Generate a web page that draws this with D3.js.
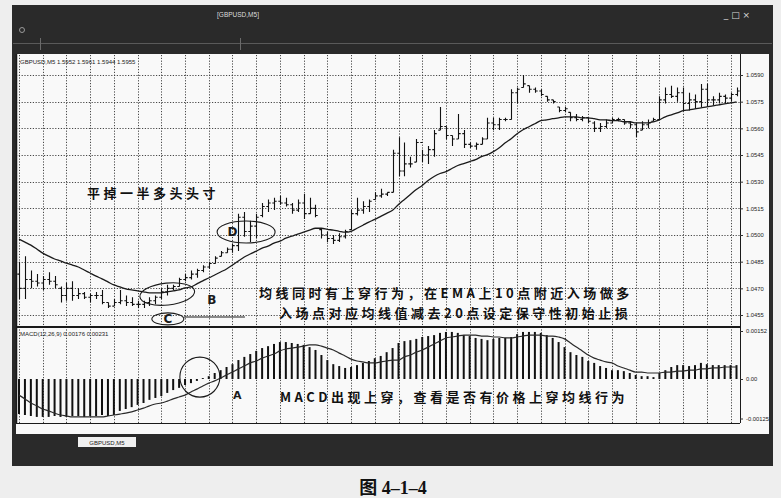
<!DOCTYPE html>
<html>
<head>
<meta charset="utf-8">
<script src="https://d3js.org/d3.v7.min.js"></script>
<style>
body { margin: 0; background: #eeeeee; }
svg { display: block; }
.small { font-family: "Liberation Sans", Arial, sans-serif; font-size: 6px; fill: #222; }
.note { font-family: "Noto Sans CJK SC", sans-serif; font-weight: 700; font-size: 13px; fill: #111; letter-spacing: 3.5px; }
.letter { font-family: "DejaVu Sans", sans-serif; font-weight: 700; font-size: 12px; fill: #1a1a1a; }
.axis path { display: none; }
.axis line { stroke: #333; }
.axis text { font-family: "Liberation Sans", Arial, sans-serif; font-size: 5.8px; fill: #222; }
</style>
</head>
<body>
<div id="chart"></div>
<script>
// time labels every 8 bars (M5)
var timeLabels = ["24 Sep 2008", "24 Sep 23:35", "25 Sep 00:15", "25 Sep 00:55", "25 Sep 01:35",
    "25 Sep 02:20", "25 Sep 03:00", "25 Sep 03:40", "25 Sep 04:20", "25 Sep 05:00", "25 Sep 05:40",
    "25 Sep 06:20", "25 Sep 07:00", "25 Sep 07:40", "25 Sep 08:20", "25 Sep 09:00"];
var priceTicks = [1.0590, 1.0575, 1.0560, 1.0545, 1.0530, 1.0515, 1.0500, 1.0485, 1.0470, 1.0455];
var macdTicks = [0.00152, 0.00, -0.00125];
var macdTickLabels = ["0.00152", "0.00", "-0.00125"];

var opens = [1.0478,1.0470,1.0475,1.0474,1.0473,1.0475,1.0474,1.0470,1.0466,1.0470,
    1.0466,1.0467,1.0465,1.0466,1.0466,1.0462,1.0460,1.0462,1.0463,1.0462,
    1.0461,1.0461,1.0462,1.0463,1.0465,1.0468,1.0470,1.0471,1.0475,1.0476,
    1.0478,1.0480,1.0482,1.0484,1.0488,1.0490,1.0492,1.0494,1.0510,1.0502,
    1.0505,1.0511,1.0516,1.0518,1.0519,1.0518,1.0517,1.0514,1.0518,1.0512,
    1.0515,1.0503,1.0500,1.0498,1.0497,1.0499,1.0503,1.0512,1.0514,1.0516,
    1.0520,1.0522,1.0523,1.0524,1.0546,1.0536,1.0540,1.0541,1.0552,1.0545,
    1.0548,1.0559,1.0561,1.0556,1.0554,1.0557,1.0551,1.0550,1.0551,1.0554,
    1.0563,1.0562,1.0565,1.0565,1.0580,1.0583,1.0584,1.0582,1.0581,1.0578,
    1.0576,1.0572,1.0570,1.0569,1.0566,1.0565,1.0566,1.0563,1.0560,1.0561,
    1.0563,1.0565,1.0565,1.0563,1.0562,1.0559,1.0562,1.0564,1.0565,1.0576,
    1.0579,1.0578,1.0580,1.0574,1.0576,1.0575,1.0582,1.0576,1.0576,1.0578,
    1.0577,1.0579];
var highs = [1.0485,1.0488,1.0480,1.0478,1.0477,1.0479,1.0477,1.0471,1.0473,1.0474,
    1.0470,1.0468,1.0467,1.0468,1.0469,1.0462,1.0464,1.0469,1.0466,1.0465,
    1.0463,1.0463,1.0465,1.0466,1.0470,1.0472,1.0472,1.0476,1.0478,1.0480,
    1.0481,1.0483,1.0485,1.0488,1.0491,1.0493,1.0495,1.0512,1.0513,1.0508,
    1.0512,1.0518,1.0520,1.0521,1.0522,1.0521,1.0518,1.0520,1.0523,1.0521,
    1.0517,1.0504,1.0502,1.0500,1.0501,1.0503,1.0514,1.0521,1.0519,1.0520,
    1.0524,1.0526,1.0524,1.0548,1.0555,1.0552,1.0544,1.0554,1.0548,1.0550,
    1.0559,1.0572,1.0561,1.0556,1.0568,1.0559,1.0552,1.0552,1.0555,1.0566,
    1.0566,1.0566,1.0566,1.0582,1.0583,1.0590,1.0584,1.0583,1.0582,1.0578,
    1.0576,1.0572,1.0572,1.0569,1.0568,1.0567,1.0566,1.0564,1.0563,1.0565,
    1.0566,1.0566,1.0565,1.0564,1.0563,1.0564,1.0565,1.0566,1.0578,1.0583,
    1.0584,1.0583,1.0583,1.0580,1.0579,1.0585,1.0585,1.0578,1.0580,1.0579,
    1.0580,1.0583];
var lows = [1.0464,1.0464,1.0470,1.0471,1.0469,1.0472,1.0470,1.0462,1.0463,1.0463,
    1.0464,1.0464,1.0462,1.0464,1.0461,1.0459,1.0460,1.0461,1.0460,1.0460,
    1.0459,1.0459,1.0460,1.0461,1.0464,1.0466,1.0469,1.0471,1.0474,1.0475,
    1.0476,1.0479,1.0481,1.0484,1.0488,1.0490,1.0490,1.0491,1.0499,1.0496,
    1.0498,1.0510,1.0513,1.0514,1.0517,1.0516,1.0512,1.0513,1.0509,1.0512,
    1.0510,1.0498,1.0496,1.0495,1.0496,1.0498,1.0503,1.0511,1.0512,1.0513,
    1.0520,1.0521,1.0522,1.0524,1.0533,1.0533,1.0538,1.0541,1.0541,1.0540,
    1.0544,1.0559,1.0554,1.0550,1.0554,1.0549,1.0549,1.0548,1.0551,1.0554,
    1.0559,1.0559,1.0564,1.0565,1.0574,1.0583,1.0580,1.0580,1.0578,1.0575,
    1.0574,1.0569,1.0569,1.0564,1.0564,1.0564,1.0563,1.0558,1.0558,1.0560,
    1.0563,1.0564,1.0562,1.0560,1.0555,1.0559,1.0560,1.0564,1.0565,1.0574,
    1.0577,1.0575,1.0570,1.0570,1.0571,1.0572,1.0572,1.0573,1.0574,1.0574,
    1.0575,1.0578];
var closes = [1.0470,1.0475,1.0474,1.0473,1.0475,1.0474,1.0472,1.0466,1.0470,1.0466,
    1.0467,1.0465,1.0466,1.0466,1.0462,1.0460,1.0462,1.0463,1.0462,1.0461,
    1.0461,1.0462,1.0463,1.0465,1.0468,1.0470,1.0471,1.0475,1.0476,1.0478,
    1.0480,1.0482,1.0484,1.0487,1.0490,1.0492,1.0494,1.0510,1.0502,1.0505,
    1.0510,1.0516,1.0518,1.0519,1.0518,1.0517,1.0514,1.0518,1.0512,1.0515,
    1.0511,1.0500,1.0498,1.0497,1.0499,1.0502,1.0512,1.0514,1.0516,1.0519,
    1.0522,1.0523,1.0524,1.0546,1.0536,1.0540,1.0540,1.0552,1.0545,1.0548,
    1.0557,1.0561,1.0556,1.0554,1.0557,1.0551,1.0550,1.0551,1.0554,1.0563,
    1.0562,1.0565,1.0565,1.0580,1.0582,1.0585,1.0582,1.0581,1.0579,1.0576,
    1.0575,1.0570,1.0571,1.0566,1.0565,1.0566,1.0564,1.0560,1.0561,1.0563,
    1.0565,1.0565,1.0563,1.0562,1.0558,1.0562,1.0563,1.0565,1.0576,1.0579,
    1.0578,1.0580,1.0574,1.0576,1.0575,1.0582,1.0576,1.0576,1.0578,1.0577,
    1.0579,1.0581];
// moving average (EMA) under the bars
var maValues = [1.04977,1.04960,1.04943,1.04921,1.04898,1.04881,1.04865,1.04854,1.04842,1.04831,
    1.04820,1.04803,1.04786,1.04769,1.04753,1.04736,1.04719,1.04708,1.04697,1.04691,
    1.04686,1.04680,1.04675,1.04675,1.04675,1.04680,1.04686,1.04691,1.04702,1.04708,
    1.04725,1.04742,1.04758,1.04775,1.04792,1.04809,1.04831,1.04854,1.04876,1.04893,
    1.04909,1.04926,1.04937,1.04954,1.04965,1.04982,1.04993,1.05005,1.05016,1.05027,
    1.05038,1.05038,1.05032,1.05027,1.05021,1.05016,1.05021,1.05038,1.05055,1.05072,
    1.05088,1.05105,1.05122,1.05139,1.05172,1.05200,1.05228,1.05256,1.05279,1.05307,
    1.05329,1.05346,1.05357,1.05374,1.05391,1.05402,1.05413,1.05424,1.05441,1.05452,
    1.05469,1.05491,1.05519,1.05542,1.05570,1.05592,1.05609,1.05626,1.05643,1.05648,
    1.05654,1.05659,1.05665,1.05665,1.05665,1.05659,1.05659,1.05654,1.05648,1.05648,
    1.05643,1.05643,1.05637,1.05637,1.05631,1.05631,1.05631,1.05637,1.05648,1.05665,
    1.05676,1.05687,1.05699,1.05704,1.05710,1.05715,1.05721,1.05726,1.05732,1.05738,
    1.05743,1.05749];
var macdHist = [-0.00111,-0.00114,-0.00117,-0.00120,-0.00120,-0.00120,-0.00117,-0.00120,-0.00120,-0.00117,
    -0.00117,-0.00120,-0.00117,-0.00117,-0.00114,-0.00117,-0.00114,-0.00101,-0.00095,-0.00089,
    -0.00082,-0.00076,-0.00066,-0.00060,-0.00054,-0.00044,-0.00035,-0.00028,-0.00019,-0.00013,
    -0.00006,0.00003,0.00009,0.00019,0.00028,0.00038,0.00047,0.00060,0.00070,0.00079,
    0.00089,0.00098,0.00104,0.00111,0.00117,0.00117,0.00114,0.00111,0.00108,0.00101,
    0.00092,0.00076,0.00060,0.00047,0.00041,0.00035,0.00038,0.00044,0.00051,0.00057,
    0.00066,0.00073,0.00085,0.00098,0.00114,0.00120,0.00123,0.00127,0.00133,0.00136,
    0.00139,0.00146,0.00149,0.00149,0.00146,0.00139,0.00136,0.00130,0.00127,0.00123,
    0.00127,0.00130,0.00130,0.00133,0.00142,0.00149,0.00149,0.00149,0.00146,0.00139,
    0.00130,0.00117,0.00101,0.00085,0.00076,0.00070,0.00057,0.00051,0.00041,0.00035,
    0.00028,0.00028,0.00025,0.00019,0.00013,0.00009,0.00009,0.00006,0.00019,0.00028,
    0.00038,0.00044,0.00044,0.00041,0.00044,0.00051,0.00047,0.00044,0.00044,0.00044,
    0.00044,0.00044];
var macdSignal = [-0.00051,-0.00063,-0.00076,-0.00085,-0.00095,-0.00101,-0.00108,-0.00114,-0.00117,-0.00120,
    -0.00120,-0.00120,-0.00120,-0.00120,-0.00120,-0.00117,-0.00114,-0.00111,-0.00108,-0.00104,
    -0.00098,-0.00092,-0.00085,-0.00079,-0.00076,-0.00070,-0.00063,-0.00057,-0.00051,-0.00041,
    -0.00032,-0.00022,-0.00013,-0.00006,0.00003,0.00013,0.00022,0.00032,0.00041,0.00051,
    0.00057,0.00066,0.00073,0.00079,0.00089,0.00095,0.00098,0.00101,0.00104,0.00108,
    0.00108,0.00104,0.00098,0.00092,0.00082,0.00073,0.00063,0.00057,0.00054,0.00051,
    0.00051,0.00054,0.00057,0.00060,0.00060,0.00070,0.00076,0.00085,0.00092,0.00101,
    0.00111,0.00120,0.00130,0.00133,0.00136,0.00139,0.00139,0.00139,0.00136,0.00136,
    0.00133,0.00133,0.00130,0.00130,0.00133,0.00136,0.00139,0.00139,0.00139,0.00136,
    0.00136,0.00133,0.00127,0.00114,0.00101,0.00089,0.00076,0.00066,0.00060,0.00054,
    0.00051,0.00041,0.00035,0.00028,0.00022,0.00022,0.00019,0.00019,0.00019,0.00022,
    0.00022,0.00025,0.00025,0.00028,0.00028,0.00032,0.00032,0.00035,0.00035,0.00038,
    0.00038,0.00038];

var width = 781, height = 498;
var plotLeft = 16, plotRight = 740;
var priceTop = 55, priceBottom = 327, macdBottom = 423;

var x = d3.scaleLinear().domain([0, 121]).range([19, 736.5]);
var y = d3.scaleLinear().domain([1.0455, 1.0590]).range([315, 75]);
var m = d3.scaleLinear().domain([-0.00125, 0.00152]).range([418.5, 331]);
var px = function (v) { return Math.round(v) + 0.5; };

var svg = d3.select("#chart").append("svg")
    .attr("width", width)
    .attr("height", height);

svg.append("clipPath").attr("id", "win")
    .append("rect").attr("x", 16).attr("y", 54).attr("width", 753).attr("height", 380);

// window frame
svg.append("rect").attr("x", 12).attr("y", 5).attr("width", 761).attr("height", 461).attr("fill", "#2a2a2a");
svg.append("line").attr("x1", 13).attr("x2", 772).attr("y1", 43.5).attr("y2", 43.5).attr("stroke", "#5a5a5a");
svg.append("line").attr("x1", 40.5).attr("x2", 40.5).attr("y1", 38).attr("y2", 50).attr("stroke", "#6a6a6a");
svg.append("line").attr("x1", 240.5).attr("x2", 240.5).attr("y1", 38).attr("y2", 50).attr("stroke", "#6a6a6a");
svg.append("text").attr("x", 238).attr("y", 17).attr("text-anchor", "middle")
    .attr("class", "small").style("fill", "#dcdcdc").style("font-size", "6.5px").text("[GBPUSD,M5]");
svg.append("text").attr("x", 737).attr("y", 18).attr("text-anchor", "middle")
    .style("font-family", "DejaVu Sans").style("font-size", "9px").style("fill", "#d8d8d8")
    .text("_   \u25a1   \u00d7");
svg.append("circle").attr("cx", 22).attr("cy", 30).attr("r", 2.5).attr("fill", "none").attr("stroke", "#999");

svg.append("rect").attr("x", 16).attr("y", 54).attr("width", 753).attr("height", 380).attr("fill", "#f9f9f9");

// grid
var grid = svg.append("g")
    .attr("stroke", "#333")
    .attr("stroke-width", 0.9)
    .attr("stroke-dasharray", "1.2,1.6");
grid.selectAll(".hg").data(priceTicks).enter().append("line")
    .attr("class", "hg")
    .attr("x1", plotLeft).attr("x2", plotRight)
    .attr("y1", function (d) { return px(y(d)); })
    .attr("y2", function (d) { return px(y(d)); });
grid.selectAll(".vg").data(d3.range(0, 122, 4)).enter().append("line")
    .attr("class", "vg")
    .attr("x1", function (d) { return px(x(d)); })
    .attr("x2", function (d) { return px(x(d)); })
    .attr("y1", priceTop).attr("y2", macdBottom);

// frame lines
var frame = svg.append("g").attr("stroke", "#1a1a1a");
frame.append("line").attr("x1", plotLeft + 0.5).attr("x2", plotLeft + 0.5).attr("y1", 54).attr("y2", macdBottom).attr("stroke-width", 1.5);
frame.append("line").attr("x1", plotRight + 0.5).attr("x2", plotRight + 0.5).attr("y1", 54).attr("y2", macdBottom);
frame.append("line").attr("x1", plotLeft).attr("x2", plotRight).attr("y1", priceBottom).attr("y2", priceBottom).attr("stroke-width", 2);
frame.append("line").attr("x1", plotLeft).attr("x2", plotRight).attr("y1", macdBottom + 0.5).attr("y2", macdBottom + 0.5);

// price bars
var idx = d3.range(closes.length);
svg.append("g")
    .attr("stroke", "#111")
    .attr("stroke-width", 1.1)
    .attr("fill", "none")
    .selectAll("path").data(idx).enter().append("path")
    .attr("d", function (i) {
        var cx = px(x(i));
        return "M" + cx + "," + y(highs[i]) + "V" + y(lows[i]) +
            "M" + (cx - 2.2) + "," + y(opens[i]) + "H" + cx +
            "M" + cx + "," + y(closes[i]) + "H" + (cx + 2.2);
    });

// moving average
svg.append("path")
    .datum(maValues)
    .attr("fill", "none")
    .attr("stroke", "#1a1a1a")
    .attr("stroke-width", 1.3)
    .attr("d", d3.line()
        .x(function (d, i) { return x(i); })
        .y(function (d) { return y(d); })
        .curve(d3.curveMonotoneX));

// MACD histogram
svg.append("g")
    .attr("stroke", "#111")
    .attr("stroke-width", 2)
    .selectAll("line").data(idx).enter().append("line")
    .attr("x1", function (i) { return x(i); })
    .attr("x2", function (i) { return x(i); })
    .attr("y1", m(0))
    .attr("y2", function (i) { return m(macdHist[i]); });

// MACD signal
svg.append("path")
    .datum(macdSignal)
    .attr("fill", "none")
    .attr("stroke", "#2a2a2a")
    .attr("stroke-width", 1.2)
    .attr("d", d3.line()
        .x(function (d, i) { return x(i); })
        .y(function (d) { return m(d); })
        .curve(d3.curveMonotoneX));

// axes
svg.append("g").attr("class", "axis")
    .attr("transform", "translate(" + plotRight + ",0)")
    .call(d3.axisRight(y).tickValues(priceTicks).tickSize(3).tickPadding(3).tickFormat(d3.format(".4f")));
svg.append("g").attr("class", "axis")
    .attr("transform", "translate(" + plotRight + ",0)")
    .call(d3.axisRight(m).tickValues(macdTicks).tickSize(3).tickPadding(3)
        .tickFormat(function (d, i) { return macdTickLabels[i]; }));
var timeAxis = svg.append("g").attr("class", "axis")
    .attr("clip-path", "url(#win)")
    .attr("transform", "translate(0," + macdBottom + ")")
    .call(d3.axisBottom(x).tickValues(d3.range(0, 121, 8)).tickSize(2).tickPadding(1)
        .tickFormat(function (d, i) { return timeLabels[i]; }));
timeAxis.selectAll("text").attr("text-anchor", "start").attr("dx", "-1px");

// panel headers
svg.append("text").attr("class", "small").attr("x", 20).attr("y", 64)
    .text("GBPUSD,M5  1.5952  1.5961  1.5944  1.5955");
svg.append("text").attr("class", "small").attr("x", 20).attr("y", 336)
    .text("MACD(12,26,9) 0.00176 0.00231");

// annotations
var ann = svg.append("g").attr("fill", "none").attr("stroke", "#1a1a1a").attr("stroke-width", 1.1);
ann.append("ellipse").attr("cx", x(38.3)).attr("cy", y(1.05017)).attr("rx", 29).attr("ry", 11);
ann.append("ellipse").attr("cx", x(25)).attr("cy", y(1.04668)).attr("rx", 27.5).attr("ry", 11)
    .attr("transform", "rotate(-6," + x(25) + "," + y(1.04668) + ")");
ann.append("ellipse").attr("cx", x(25.1)).attr("cy", y(1.04528)).attr("rx", 16).attr("ry", 6);
ann.append("line").attr("x1", x(27.8)).attr("x2", x(38.1)).attr("y1", y(1.04539)).attr("y2", y(1.04539));
ann.append("circle").attr("cx", x(30.5)).attr("cy", m(0.00006)).attr("r", 20);

svg.append("text").attr("class", "letter").attr("x", x(36)).attr("y", y(1.05017) + 4.5).attr("text-anchor", "middle").text("D");
svg.append("text").attr("class", "letter").attr("x", x(32.5)).attr("y", y(1.04635) + 4.5).attr("text-anchor", "middle").text("B");
svg.append("text").attr("class", "letter").attr("x", x(25.1)).attr("y", y(1.04528) + 4.5).attr("text-anchor", "middle").text("C");
svg.append("text").attr("class", "letter").attr("x", x(36.8)).attr("y", m(-0.00050) + 4).attr("text-anchor", "middle")
    .style("font-size", "11px").text("A");

svg.append("text").attr("class", "note").attr("x", 87).attr("y", 198).text("平掉一半多头头寸");
svg.append("text").attr("class", "note").attr("x", 259).attr("y", 298).text("均线同时有上穿行为，在EMA上10点附近入场做多");
svg.append("text").attr("class", "note").attr("x", 279).attr("y", 318).text("入场点对应均线值减去20点设定保守性初始止损");
svg.append("text").attr("class", "note").attr("x", 280).attr("y", 402).text("MACD出现上穿，查看是否有价格上穿均线行为");

// symbol tab
svg.append("rect").attr("x", 78).attr("y", 437).attr("width", 58).attr("height", 10).attr("fill", "#f0f0f0");
svg.append("text").attr("class", "small").attr("x", 107).attr("y", 444.5).attr("text-anchor", "middle").text("GBPUSD,M5");

// figure caption
svg.append("text").attr("x", 393).attr("y", 494).attr("text-anchor", "middle")
    .style("font-family", "'Liberation Serif', 'Noto Sans CJK SC', serif")
    .style("font-weight", 700).style("font-size", "18px").style("fill", "#111")
    .text("图 4–1–4");
</script>
</body>
</html>
